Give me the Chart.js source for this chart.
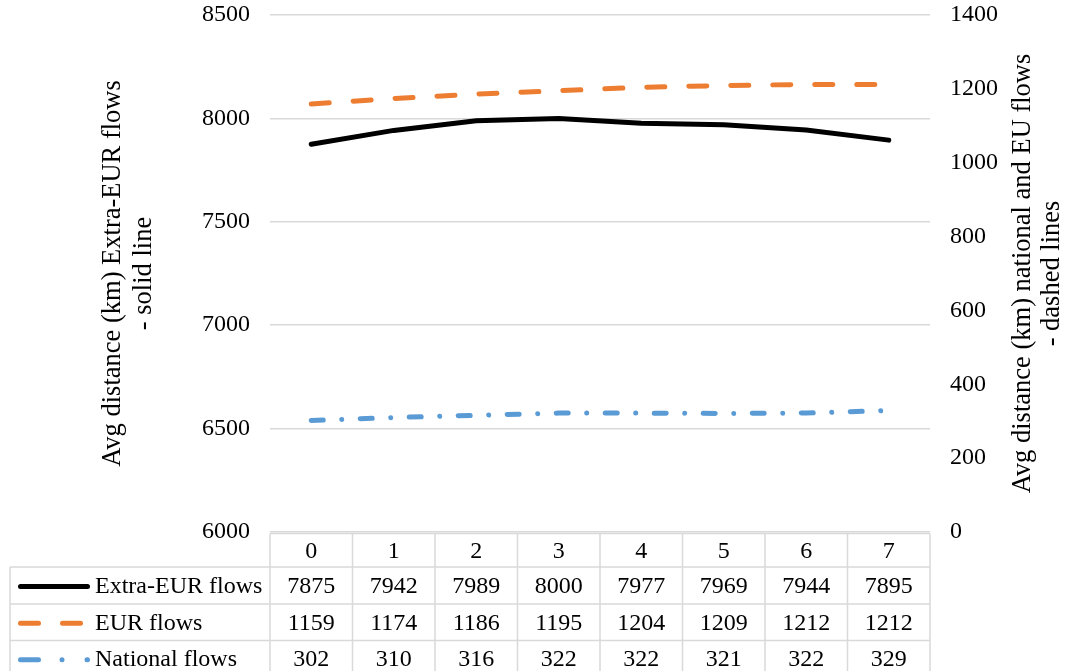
<!DOCTYPE html>
<html>
<head>
<meta charset="utf-8">
<script src="https://cdn.jsdelivr.net/npm/chart.js@4/dist/chart.umd.min.js"></script>
<style>
  html, body { margin: 0; padding: 0; background: #fff; }
  #wrap { width: 1066px; height: 671px; }
</style>
</head>
<body>
<div id="wrap"><canvas id="myChart" width="1066" height="671"></canvas></div>
<script>
const categories = ['0', '1', '2', '3', '4', '5', '6', '7'];
const extraEurFlows = [7875, 7942, 7989, 8000, 7977, 7969, 7944, 7895];
const eurFlows = [1159, 1174, 1186, 1195, 1204, 1209, 1212, 1212];
const nationalFlows = [302, 310, 316, 322, 322, 321, 322, 329];
const seriesNames = ['Extra-EUR flows', 'EUR flows', 'National flows'];
const leftTitle = ['Avg distance (km) Extra-EUR flows', '- solid line'];
const rightTitle = ['Avg distance (km) national and EU flows', '- dashed lines'];

const FONT = '"Liberation Serif", "Times New Roman", serif';
const GRID = '#d9d9d9';
const BLACK = '#000000';
const ORANGE = '#ED7D31';
const BLUE = '#5B9BD5';
const DASH_EUR = [18, 24];
const DASH_NAT = [12, 18.5, 0.01, 18.5];
const KEY_NAT = [18, 23.5, 0.01, 25];

// draws axis titles and the data table under the plot
const tablePlugin = {
  id: 'dataTable',
  afterDraw(chart) {
    const ctx = chart.ctx;
    const area = chart.chartArea;
    const xs = chart.scales.x;
    const step = (area.right - area.left) / categories.length;
    const tableLeft = 10;
    const headTop = area.bottom + 1.5;
    const rowLines = [headTop, 567, 604, 640.5, 677];
    const rows = [extraEurFlows, eurFlows, nationalFlows];

    ctx.save();
    // titles, both read bottom to top
    ctx.fillStyle = '#000';
    ctx.font = '26.5px ' + FONT;
    ctx.textAlign = 'center';
    ctx.textBaseline = 'alphabetic';
    const midY = (area.top + area.bottom) / 2;
    [[120, leftTitle[0]], [151, leftTitle[1]], [1030, rightTitle[0]], [1059, rightTitle[1]]].forEach(function(t) {
      ctx.save(); ctx.translate(t[0], midY); ctx.rotate(-Math.PI / 2);
      ctx.fillText(t[1], 0, 0); ctx.restore();
    });

    // grid lines of the table
    ctx.strokeStyle = GRID;
    ctx.lineWidth = 1.5;
    ctx.beginPath();
    ctx.moveTo(area.left, rowLines[0]); ctx.lineTo(area.right, rowLines[0]);
    for (let r = 1; r < rowLines.length; r++) {
      ctx.moveTo(tableLeft, rowLines[r]); ctx.lineTo(area.right, rowLines[r]);
    }
    for (let i = 0; i <= categories.length; i++) {
      const x = area.left + step * i;
      ctx.moveTo(x, rowLines[0]); ctx.lineTo(x, 671);
    }
    ctx.moveTo(tableLeft, rowLines[1]); ctx.lineTo(tableLeft, 671);
    ctx.stroke();

    // header
    ctx.font = '24px ' + FONT;
    ctx.textBaseline = 'middle';
    ctx.textAlign = 'center';
    for (let i = 0; i < categories.length; i++) {
      ctx.fillText(categories[i], xs.getPixelForValue(i), (rowLines[0] + rowLines[1]) / 2 + 1);
    }
    // rows
    const colors = [BLACK, ORANGE, BLUE];
    const dashes = [[], DASH_EUR, KEY_NAT];
    for (let r = 0; r < rows.length; r++) {
      const cy = (rowLines[r + 1] + rowLines[r + 2]) / 2 + 1;
      ctx.textAlign = 'center';
      for (let i = 0; i < rows[r].length; i++) {
        ctx.fillText(String(rows[r][i]), xs.getPixelForValue(i), cy);
      }
      // legend key
      ctx.save();
      ctx.strokeStyle = colors[r];
      ctx.lineWidth = 5;
      ctx.lineCap = 'round';
      ctx.setLineDash(dashes[r]);
      ctx.beginPath();
      ctx.moveTo(20.5, cy); ctx.lineTo(87.5, cy);
      ctx.stroke();
      ctx.restore();
      ctx.textAlign = 'left';
      ctx.fillText(seriesNames[r], 95, cy);
    }
    ctx.restore();
  }
};

function noPad(s) { s.paddingTop = 0; s.paddingBottom = 0; }

const config = {
  type: 'line',
  data: {
    labels: categories,
    datasets: [{
      label: seriesNames[0],
      data: extraEurFlows,
      yAxisID: 'y',
      borderColor: BLACK,
      borderWidth: 5,
      borderCapStyle: 'round',
      pointRadius: 0,
      tension: 0
    }, {
      label: seriesNames[1],
      data: eurFlows,
      yAxisID: 'y2',
      borderColor: ORANGE,
      borderWidth: 5,
      borderCapStyle: 'round',
      borderDash: DASH_EUR,
      pointRadius: 0,
      tension: 0
    }, {
      label: seriesNames[2],
      data: nationalFlows,
      yAxisID: 'y2',
      borderColor: BLUE,
      borderWidth: 5,
      borderCapStyle: 'round',
      borderDash: DASH_NAT,
      pointRadius: 0,
      tension: 0
    }]
  },
  options: {
    responsive: false,
    animation: false,
    events: [],
    layout: { padding: { top: 15, bottom: 139, left: 0, right: 0 } },
    plugins: { legend: { display: false }, tooltip: { enabled: false } },
    scales: {
      x: {
        display: false,
        offset: true
      },
      y: {
        position: 'left',
        min: 6000,
        max: 8500,
        afterFit: function(s) { s.width = 270; noPad(s); },
        border: { display: false },
        grid: { color: GRID, lineWidth: 1.5, drawTicks: false },
        ticks: {
          stepSize: 500,
          padding: 20,
          color: '#000',
          font: { family: FONT, size: 24 },
          callback: function(v) { return String(v); }
        }
      },
      y2: {
        position: 'right',
        min: 0,
        max: 1400,
        afterFit: function(s) { s.width = 136; noPad(s); },
        border: { display: false },
        grid: { display: false, drawTicks: false },
        ticks: {
          stepSize: 200,
          padding: 20,
          color: '#000',
          font: { family: FONT, size: 24 },
          callback: function(v) { return String(v); }
        }
      }
    }
  },
  plugins: [tablePlugin]
};

var myChart = document.getElementById('myChart').getContext('2d');
var theChart = new Chart(myChart, config);
</script>
</body>
</html>
